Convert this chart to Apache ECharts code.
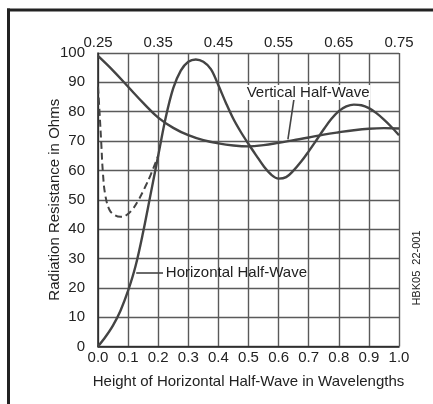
<!DOCTYPE html>
<html>
<head>
<meta charset="utf-8">
<script src="https://cdn.jsdelivr.net/npm/echarts@6/dist/echarts.min.js"></script>
<style>
html,body{margin:0;padding:0;background:#fff;}
#chart{width:433px;height:404px;}
</style>
</head>
<body>
<div id="chart"></div>
<script>
// Horizontal half-wave height (bottom axis, wavelengths)
var horizX = [0, 0.025, 0.05, 0.075, 0.1, 0.125, 0.15, 0.175, 0.2, 0.225, 0.25, 0.275, 0.3, 0.325, 0.35, 0.375, 0.4, 0.425, 0.45, 0.475, 0.5, 0.525, 0.55, 0.575, 0.6, 0.625, 0.65, 0.675, 0.7, 0.725, 0.75, 0.775, 0.8, 0.825, 0.85, 0.875, 0.9, 0.925, 0.95, 0.975, 1.0];
var horizR = [0, 3.3, 7.2, 12.3, 19, 27.5, 39, 52, 65, 78, 88, 94, 97, 97.8, 97, 94.5, 89, 83, 77.5, 73, 69, 65.2, 61.5, 58.6, 57.2, 57.7, 60, 63, 66.5, 70.2, 74, 77.5, 80.2, 81.8, 82.4, 82.2, 81.2, 79.5, 77.3, 74.8, 72];
// Dashed low-height portion
var dashX = [0, 0.005, 0.011, 0.016, 0.024, 0.038, 0.055, 0.075, 0.095, 0.115, 0.135, 0.155, 0.175, 0.2];
var dashR = [88.5, 80, 69, 59.6, 51.7, 46.6, 44.8, 44.2, 44.8, 46.8, 50, 54, 58.5, 65];
// Vertical half-wave height (top axis, wavelengths)
var vertX = [0.25, 0.275, 0.3, 0.325, 0.35, 0.375, 0.4, 0.425, 0.45, 0.475, 0.5, 0.525, 0.55, 0.575, 0.6, 0.625, 0.65, 0.675, 0.7, 0.725, 0.75];
var vertR = [99, 94, 88.5, 83, 78, 74.5, 72, 70.3, 69.2, 68.5, 68.2, 68.6, 69.4, 70.3, 71.2, 72.2, 73, 73.7, 74.2, 74.4, 74.3];

var FONT = '"Liberation Sans", Arial, Helvetica, sans-serif';
var TXT = '#222';
var CURVE = '#444';
var GRIDC = '#5a5a5a';
var FS = 15;

function zip(a, b) { return a.map(function (v, i) { return [v, b[i]]; }); }

var chart = echarts.init(document.getElementById('chart'), null, {renderer: 'canvas'});
chart.setOption({
  animation: false,
  backgroundColor: '#fff',
  textStyle: {fontFamily: FONT, color: TXT},
  grid: {left: 98, right: 34, top: 53, bottom: 57.5},
  xAxis: [
    {
      type: 'value', position: 'bottom', min: 0, max: 1, interval: 0.1,
      name: 'Height of Horizontal Half-Wave in Wavelengths',
      nameLocation: 'middle', nameGap: 28, nameMoveOverlap: false,
      nameTextStyle: {fontSize: FS, color: TXT, fontFamily: FONT},
      axisLine: {show: true, lineStyle: {color: '#222', width: 1.5}},
      axisTick: {show: false},
      axisLabel: {fontSize: FS, color: TXT, margin: 4, fontFamily: FONT,
        formatter: function (v) { return v.toFixed(1); }},
      splitLine: {show: true, lineStyle: {color: GRIDC, width: 1.4}}
    },
    {
      type: 'value', position: 'top', min: 0.25, max: 0.75, interval: 0.05,
      axisLine: {show: false}, axisTick: {show: false},
      axisLabel: {fontSize: FS, color: TXT, margin: 3, fontFamily: FONT,
        formatter: function (v) { return (Math.round(v * 100) % 10 === 5) ? v.toFixed(2) : ''; }},
      splitLine: {show: false}
    }
  ],
  yAxis: {
    type: 'value', min: 0, max: 100, interval: 10,
    name: 'Radiation Resistance in Ohms',
    nameLocation: 'middle', nameGap: 36, nameMoveOverlap: false,
    nameTextStyle: {fontSize: FS, color: TXT, fontFamily: FONT},
    axisLine: {show: true, lineStyle: {color: '#222', width: 1.5}},
    axisTick: {show: false},
    axisLabel: {fontSize: FS, color: TXT, margin: 13, fontFamily: FONT},
    splitLine: {show: true, lineStyle: {color: GRIDC, width: 1.4}}
  },
  series: [
    {
      name: 'Horizontal Half-Wave', type: 'line', xAxisIndex: 0,
      data: zip(horizX, horizR), smooth: 0.35, symbol: 'none',
      lineStyle: {color: CURVE, width: 2.4},
      markLine: {
        silent: true, symbol: ['none', 'arrow'], symbolSize: [0, 8],
        lineStyle: {color: CURVE, width: 1.6, type: 'solid'},
        label: {show: false},
        data: [[{coord: [0.216, 25]}, {coord: [0.127, 25]}]]
      },
      markPoint: {
        silent: true, symbol: 'circle', symbolSize: 0,
        data: [{coord: [0.222, 25],
          label: {show: true, position: 'right', distance: 1, formatter: 'Horizontal Half-Wave',
            fontSize: FS, color: TXT, fontFamily: FONT}}]
      }
    },
    {
      name: 'dashed', type: 'line', xAxisIndex: 0,
      data: zip(dashX, dashR), smooth: 0.4, symbol: 'none',
      lineStyle: {color: CURVE, width: 2, type: [7, 4]}
    },
    {
      name: 'Vertical Half-Wave', type: 'line', xAxisIndex: 1,
      data: zip(vertX, vertR), smooth: 0.4, symbol: 'none',
      lineStyle: {color: CURVE, width: 2.4},
      markLine: {
        silent: true, symbol: ['none', 'arrow'], symbolSize: [0, 8],
        lineStyle: {color: CURVE, width: 1.6, type: 'solid'},
        label: {show: false},
        data: [[{coord: [0.576, 85.0]}, {coord: [0.5655, 70.6]}]]
      },
      markPoint: {
        silent: true, symbol: 'circle', symbolSize: 0,
        data: [{coord: [0.599, 86.5],
          label: {show: true, position: 'inside', formatter: 'Vertical Half-Wave',
            fontSize: FS, color: TXT, fontFamily: FONT, backgroundColor: '#fff', padding: [0, 1]}}]
      }
    }
  ],
  graphic: [
    {type: 'line', shape: {x1: 7, y1: 10, x2: 433, y2: 10}, style: {stroke: '#222', lineWidth: 3}, z: 100},
    {type: 'line', shape: {x1: 8.5, y1: 8.5, x2: 8.5, y2: 404}, style: {stroke: '#222', lineWidth: 3}, z: 100},
    {type: 'text', x: 417, y: 268, rotation: Math.PI / 2,
      style: {text: 'HBK05  22-001', font: '11px ' + FONT, fill: TXT, textAlign: 'center', textVerticalAlign: 'middle'}}
  ]
});
</script>
</body>
</html>
